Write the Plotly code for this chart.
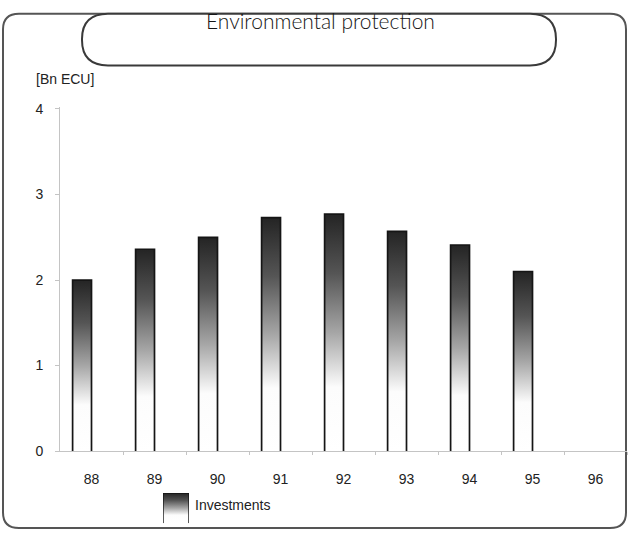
import plotly.graph_objects as go

# ---- data ----
years = ["88", "89", "90", "91", "92", "93", "94", "95", "96"]
investments = [2.0, 2.36, 2.5, 2.73, 2.77, 2.57, 2.41, 2.1, None]
y_ticks = [0, 1, 2, 3, 4]
title_text = "Environmental protection"
unit_label = "[Bn ECU]"
series_name = "Investments"

# ---- layout helpers (pixel -> paper) ----
W, H = 629, 537
def px(x):
    return x / W
def py(y):
    return 1 - y / H

def rounded_rect(x0, y0, x1, y1, r):
    pts = [
        ("M", [(x0 + r, y0)]),
        ("L", [(x1 - r, y0)]),
        ("Q", [(x1, y0), (x1, y0 + r)]),
        ("L", [(x1, y1 - r)]),
        ("Q", [(x1, y1), (x1 - r, y1)]),
        ("L", [(x0 + r, y1)]),
        ("Q", [(x0, y1), (x0, y1 - r)]),
        ("L", [(x0, y0 + r)]),
        ("Q", [(x0, y0), (x0 + r, y0)]),
    ]
    s = ""
    for cmd, ps in pts:
        s += cmd + " " + " ".join(f"{px(a):.5f},{py(b):.5f}" for a, b in ps) + " "
    return s + "Z"

BAR_W = 0.3
grad = [[0, "#ffffff"], [0.27, "#fcfcfc"], [0.5, "#a6a6a6"],
        [0.75, "#555555"], [1, "#242424"]]

fig = go.Figure()
for i, (lab, v) in enumerate(zip(years, investments)):
    if v is None:
        continue
    x0, x1 = i - BAR_W, i
    fig.add_trace(go.Scatter(
        x=[x0, x0, x1, x1, x0], y=[0, v, v, 0, 0],
        fill="toself", fillgradient=dict(type="vertical", colorscale=grad),
        mode="lines", line=dict(width=0, color="rgba(0,0,0,0)"),
        showlegend=False, hoverinfo="skip"))
    fig.add_trace(go.Scatter(
        x=[x0, x0, x1, x1], y=[0, v, v, 0], mode="lines",
        line=dict(color="#151515", width=1.7), showlegend=False,
        name=series_name, hovertemplate=f"{lab}: {v}<extra>{series_name}</extra>"))

# legend swatch (mini bar on its own axes)
fig.add_trace(go.Scatter(
    x=[0, 0, 1, 1, 0], y=[0, 1, 1, 0, 0], xaxis="x2", yaxis="y2",
    fill="toself", fillgradient=dict(type="vertical", colorscale=grad),
    mode="lines", line=dict(width=0, color="rgba(0,0,0,0)"),
    showlegend=False, hoverinfo="skip"))
fig.add_trace(go.Scatter(
    x=[0, 0, 1, 1], y=[0, 1, 1, 0], xaxis="x2", yaxis="y2", mode="lines",
    line=dict(color="#151515", width=1.4), showlegend=False, hoverinfo="skip"))

label_font = dict(family="Liberation Sans, Arial, sans-serif", size=14, color="#222222")

fig.update_layout(
    width=W, height=H,
    margin=dict(l=0, r=0, t=0, b=0),
    paper_bgcolor="white", plot_bgcolor="white",
    showlegend=False,
    xaxis=dict(
        domain=[px(60), px(627)], range=[-0.5, len(years) - 0.5],
        tickvals=list(range(len(years))), ticktext=years,
        ticks="", ticklabelstandoff=15, tickfont=label_font,
        showgrid=False, zeroline=False, showline=True,
        linecolor="#c4c4c4", linewidth=1,
        minor=dict(tickvals=[i + 0.5 for i in range(len(years))],
                   ticks="outside", ticklen=3, tickcolor="#c4c4c4"),
        fixedrange=True),
    yaxis=dict(
        domain=[py(457), py(104)], range=[0, 4.02],
        tickvals=y_ticks, ticks="outside", ticklen=4, tickcolor="#c4c4c4",
        ticklabelstandoff=9, tickfont=label_font,
        showgrid=False, zeroline=False, showline=True,
        linecolor="#c4c4c4", linewidth=1, fixedrange=True),
    xaxis2=dict(domain=[px(163), px(189)], range=[0, 1], visible=False,
                anchor="y2", fixedrange=True),
    yaxis2=dict(domain=[py(531), py(500)], range=[0, 1], visible=False,
                anchor="x2", fixedrange=True),
    shapes=[
        dict(type="path", xref="paper", yref="paper",
             path=rounded_rect(3, 8, 626, 536, 16),
             line=dict(color="#555555", width=2), layer="below"),
        dict(type="path", xref="paper", yref="paper",
             path=rounded_rect(82, 8, 556, 61, 26),
             line=dict(color="#3a3a3a", width=2), fillcolor="white", layer="below"),
    ],
    annotations=[
        dict(text=title_text, x=px(320), y=py(15), xref="paper", yref="paper",
             showarrow=False, xanchor="center", yanchor="middle",
             font=dict(family="Lato, Noto Sans, sans-serif", size=21,
                       color="#161616", weight=300)),
        dict(text=unit_label, x=px(34), y=py(75), xref="paper", yref="paper",
             showarrow=False, xanchor="left", yanchor="middle", font=label_font),
        dict(text=series_name, x=px(193), y=py(512), xref="paper", yref="paper",
             showarrow=False, xanchor="left", yanchor="middle", font=label_font),
    ],
)

fig.write_html(
    "out.html",
    config={"displayModeBar": False},
    post_script="document.body.style.margin='0';document.body.style.overflow='hidden';",
)
